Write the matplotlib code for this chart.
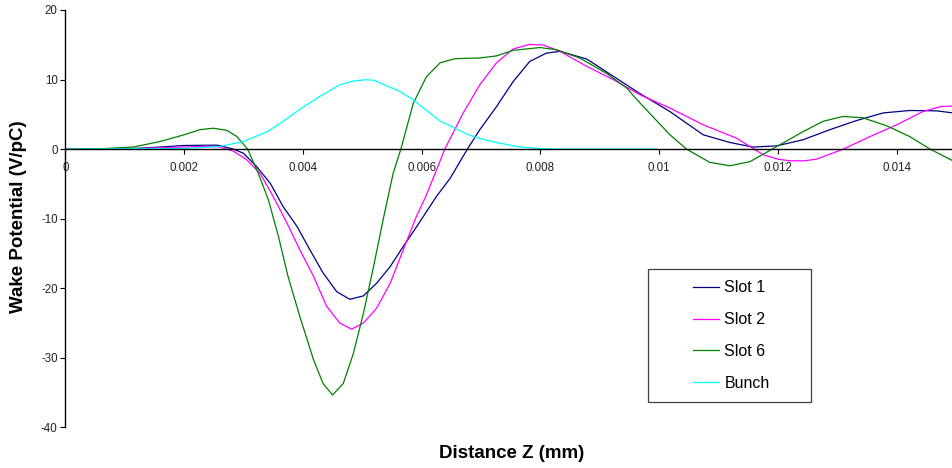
import matplotlib.pyplot as plt
from matplotlib.patches import Rectangle

plt.rcParams['font.family'] = ['Liberation Sans', 'DejaVu Sans']
plt.rcParams['axes.unicode_minus'] = False

# Slot 1 wake potential
slot1_z = [0, 0.0008, 0.0012, 0.0016, 0.002, 0.00255, 0.0026, 0.00283, 0.003, 0.00322,
           0.00345, 0.00367, 0.0039, 0.00412, 0.00434, 0.00457, 0.00479, 0.00502, 0.00524,
           0.00547, 0.00569, 0.00592, 0.00625, 0.00648, 0.00677, 0.00698, 0.00726, 0.00754,
           0.00782, 0.0081, 0.00833, 0.00878, 0.00923, 0.00968, 0.01018, 0.01074, 0.01119,
           0.01158, 0.01198, 0.01242, 0.01287, 0.01332, 0.01377, 0.01422, 0.01467, 0.01495]
slot1_v = [0, 0.02, 0.1, 0.3, 0.52, 0.57, 0.5, 0, -0.6, -2.5,
           -4.9, -8.3, -11.1, -14.5, -17.8, -20.5, -21.6, -21.1, -19.3,
           -16.9, -14.0, -11.1, -6.8, -4.2, 0, 2.8, 6.1, 9.7,
           12.6, 13.8, 14.05, 12.95, 10.45, 7.96, 5.4, 2.06, 0.95,
           0.29, 0.47, 1.34, 2.78, 4.1, 5.2, 5.55, 5.5, 5.2]

# Slot 2
slot2_z = [0, 0.0008, 0.0012, 0.0016, 0.002, 0.0024, 0.0026, 0.00283, 0.00305, 0.00328,
           0.0035, 0.00373, 0.00395, 0.00418, 0.0044, 0.00462, 0.00482, 0.00502, 0.00524,
           0.00547, 0.00569, 0.00592, 0.00606, 0.00625, 0.00639, 0.0067, 0.00698, 0.00726,
           0.00754, 0.00782, 0.00805, 0.00833, 0.00878, 0.00923, 0.00968, 0.01018, 0.01074,
           0.0113, 0.01175, 0.012, 0.0122, 0.01245, 0.01265, 0.0131, 0.01355, 0.014, 0.01444,
           0.01473, 0.01495]
slot2_v = [0, 0.02, 0.08, 0.2, 0.3, 0.4, 0.3, -0.3, -1.5, -3.5,
           -6.8, -10.6, -14.5, -18.3, -22.6, -25.0, -25.9, -25.0, -22.9,
           -19.3, -14.5, -9.5, -7.0, -3.0, 0, 5.2, 9.25, 12.4,
           14.4, 15.05, 14.96, 14.05, 11.9, 9.97, 7.8, 5.9, 3.5,
           1.58, -0.8, -1.45, -1.68, -1.68, -1.44, 0, 1.8, 3.5, 5.4,
           6.1, 6.2]

# Slot 6
slot6_z = [0, 0.0006, 0.00115, 0.0016, 0.002, 0.00227, 0.00249, 0.00272, 0.00289, 0.00307,
           0.00325, 0.00342, 0.00359, 0.00375, 0.00395, 0.00418, 0.00434, 0.0045, 0.00468,
           0.00485, 0.00502, 0.00519, 0.00535, 0.00552, 0.00565, 0.00586, 0.00608, 0.00631,
           0.00656, 0.00698, 0.00726, 0.00754, 0.00799, 0.00827, 0.00866, 0.00911, 0.00945,
           0.00968, 0.01018, 0.01046, 0.01085, 0.01119, 0.01153, 0.01198, 0.01242, 0.01276,
           0.0131, 0.01343, 0.01383, 0.01422, 0.01456, 0.01495]
slot6_v = [0, 0.05, 0.3, 1.1, 2.06, 2.8, 3.0, 2.7, 1.8, 0,
           -3.5, -7.3, -12.6, -18.3, -24.1, -30.3, -33.7, -35.35, -33.7,
           -29.4, -23.6, -16.9, -10.2, -3.5, 0, 6.6, 10.4, 12.4,
           13.0, 13.1, 13.4, 14.2, 14.6, 14.3, 13.1, 10.9, 8.8,
           6.6, 2.06, 0, -1.9, -2.4, -1.8, 0.37, 2.5, 4.0,
           4.7, 4.5, 3.35, 1.8, 0, -1.7]

# Bunch profile
bunch_z = [0, 0.002, 0.0026, 0.003, 0.0034, 0.00367, 0.004, 0.00429, 0.00462, 0.00485,
           0.00505, 0.0052, 0.0053, 0.00563, 0.00586, 0.006, 0.00614, 0.0063, 0.00656,
           0.00675, 0.00698, 0.00726, 0.0076, 0.00788, 0.0082, 0.00996]
bunch_v = [0, 0.1, 0.37, 1.1, 2.5, 4.0, 6.0, 7.6, 9.25, 9.8,
           9.97, 9.9, 9.5, 8.3, 7.1, 6.1, 5.2, 4.1, 3.0,
           2.2, 1.5, 0.95, 0.37, 0.14, 0, 0]

x_ticks = [0, 0.002, 0.004, 0.006, 0.008, 0.01, 0.012, 0.014]
x_labels = ['0', '0.002', '0.004', '0.006', '0.008', '0.01', '0.012', '0.014']
y_ticks = [-40, -30, -20, -10, 0, 10, 20]

fig = plt.figure(figsize=(9.52, 4.68), dpi=100)
ax = fig.add_axes([65.3 / 952, 1 - 427.3 / 468, (952 - 65.3) / 952, 417.3 / 468])

ax.plot(slot1_z, slot1_v, color='#000080', lw=0.9, label='Slot 1')
ax.plot(slot2_z, slot2_v, color='#ff00ff', lw=0.9, label='Slot 2')
ax.plot(slot6_z, slot6_v, color='#008000', lw=0.9, label='Slot 6')
ax.plot(bunch_z, bunch_v, color='#00ffff', lw=0.9, label='Bunch')

ax.set_xlim(0, 0.01493)
ax.set_ylim(-40, 20)
ax.spines['top'].set_visible(False)
ax.spines['right'].set_visible(False)
ax.spines['bottom'].set_position(('data', 0))
ax.spines['left'].set_linewidth(1)
ax.spines['bottom'].set_linewidth(1)

ax.set_xticks(x_ticks)
ax.set_xticklabels(x_labels)
ax.set_yticks(y_ticks)
ax.tick_params(axis='both', labelsize=8.3, colors='black', length=3.5, width=0.8, direction='out')
ax.tick_params(axis='both', labelcolor='#222222')
ax.tick_params(axis='x', pad=6)
ax.tick_params(axis='y', pad=2)

fig.text(512 / 952, 1 - 453 / 468, 'Distance Z (mm)', ha='center', va='center',
         fontsize=13.5, fontweight='bold')
fig.text(19 / 952, 1 - 217 / 468, 'Wake Potential (V/pC)', ha='center', va='center',
         rotation=90, fontsize=13.5, fontweight='bold')

# legend box drawn by hand, it is wider than its contents
fig.patches.append(Rectangle((648 / 952, 1 - 402 / 468), 163 / 952, 133 / 468,
                             transform=fig.transFigure, fill=False, edgecolor='#404040', lw=0.9))
leg = ax.legend(frameon=False, loc='center', bbox_to_anchor=(731.5 / 952, 1 - 335.5 / 468),
                bbox_transform=fig.transFigure, fontsize=11.5, handlelength=1.6,
                handletextpad=0.35, labelspacing=1.05, borderpad=0)

fig.savefig('out.png', dpi=100)
